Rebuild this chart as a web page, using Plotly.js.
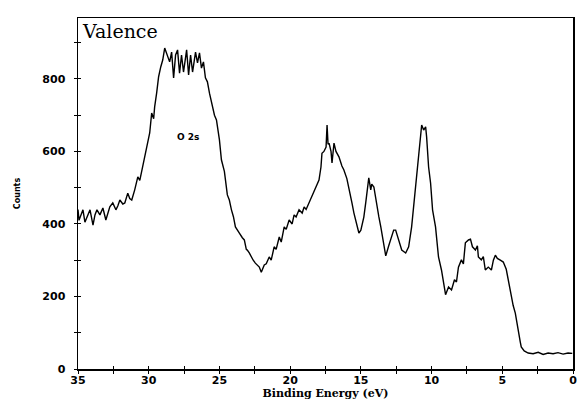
<!DOCTYPE html>
<html>
<head>
<meta charset="utf-8">
<script src="https://cdn.plot.ly/plotly-3.0.1.min.js"></script>
<style>html,body{margin:0;padding:0;background:#fff;}#chart{width:581px;height:401px;}</style>
</head>
<body>
<div id="chart"></div>
<script>
// Binding energy (eV) and counts
const bindingEnergy = [
  35.00,34.93,34.79,34.65,34.51,34.37,34.15,33.94,33.80,33.66,33.45,33.24,33.03,32.75,32.54,32.32,32.18,32.04,31.83,31.69,
  31.48,31.34,31.20,30.99,30.77,30.63,30.49,30.42,30.28,30.14,29.93,29.79,29.65,29.58,29.44,29.30,29.15,29.01,28.87,28.66,
  28.52,28.38,28.24,28.10,27.96,27.82,27.68,27.54,27.32,27.18,27.04,26.90,26.69,26.55,26.41,26.27,26.13,25.99,25.85,25.70,
  25.49,25.35,25.21,25.00,24.86,24.65,24.44,24.30,24.15,24.01,23.87,23.73,23.59,23.38,23.24,23.10,23.03,22.89,22.75,22.61,
  22.46,22.32,22.18,22.04,21.90,21.83,21.69,21.48,21.34,21.13,20.99,20.77,20.63,20.42,20.28,20.07,19.86,19.72,19.58,19.37,
  19.15,19.01,18.87,18.66,18.45,18.31,18.17,17.96,17.82,17.75,17.61,17.46,17.39,17.32,17.25,17.11,17.04,16.90,16.76,16.55,
  16.34,16.20,15.99,15.85,15.63,15.49,15.35,15.14,15.00,14.79,14.65,14.58,14.44,14.30,14.23,14.08,13.87,13.73,13.59,13.38,
  13.24,13.03,12.82,12.68,12.54,12.32,12.11,11.83,11.62,11.41,11.27,11.13,10.92,10.77,10.70,10.56,10.42,10.35,10.21,10.07,
  9.93,9.72,9.51,9.30,9.15,9.01,8.80,8.59,8.38,8.24,8.10,7.89,7.75,7.61,7.39,7.25,7.11,6.90,6.76,6.69,
  6.48,6.34,6.20,5.99,5.77,5.63,5.49,5.35,5.14,4.93,4.72,4.58,4.37,4.23,4.08,3.87,3.73,3.66,3.45,3.17,
  2.82,2.46,2.11,1.76,1.41,1.06,0.70,0.35,0.05
];
const counts = [
  440,410,425,439,405,417,439,397,425,439,425,444,411,447,458,439,450,466,455,458,
  485,470,466,494,530,520,549,557,590,612,651,706,690,723,761,806,833,852,885,858,
  847,874,803,866,880,816,866,819,880,811,866,819,874,844,872,830,847,803,792,760,
  725,700,687,632,577,545,480,466,439,420,392,385,375,362,356,330,328,320,309,300,
  292,285,281,267,280,287,290,309,300,337,330,364,350,392,385,411,400,425,419,439,
  430,447,440,458,475,490,502,521,557,595,600,612,673,620,623,600,568,623,600,585,
  560,549,525,502,458,430,411,375,383,419,460,485,527,494,510,502,447,420,392,348,
  312,340,364,383,383,356,328,320,337,392,447,502,577,632,673,659,668,640,557,513,
  439,392,309,273,237,205,226,218,246,240,281,301,290,348,356,358,337,328,340,309,
  301,310,273,281,273,300,314,305,300,295,275,246,199,175,154,99,75,61,50,44,
  42,46,40,44,42,45,41,44,43
];
const xTickVals = [35, 30, 25, 20, 15, 10, 5, 0];
const xTickText = ['35', '30', '25', '20', '15', '10', '5', '0'];
const yTickVals = [0, 200, 400, 600, 800];
const yTickText = ['0', '200', '400', '600', '800'];
const titleText = 'Valence';
const xTitle = 'Binding Energy (eV)';
const yTitle = 'Counts';
const peakLabel = 'O 2s';
const peakLabelPos = [27.2, 640];

const xRange = [35, 0];
const yRange = [0, 968];
const tickFont = {family: 'DejaVu Sans', size: 11, color: '#000', weight: 'bold'};

const trace = {
  x: bindingEnergy, y: counts, type: 'scatter', mode: 'lines',
  line: {color: '#000', width: 1.4}, hoverinfo: 'skip', showlegend: false
};
// empty trace so the overlaid tick-only axes are drawn
const tickTrace = {x: [], y: [], xaxis: 'x2', yaxis: 'y2', type: 'scatter', mode: 'lines', showlegend: false, hoverinfo: 'skip'};

const layout = {
  width: 581, height: 401,
  margin: {l: 78, r: 6, t: 18, b: 32},
  paper_bgcolor: '#fff', plot_bgcolor: '#fff',
  showlegend: false,
  title: {
    text: titleText, x: 83/581, xanchor: 'left', xref: 'container',
    y: 1 - 31/401, yanchor: 'middle', yref: 'container',
    font: {family: 'DejaVu Serif', size: 19, color: '#000'}
  },
  xaxis: {
    range: xRange, autorange: false,
    tickmode: 'array', tickvals: xTickVals, ticktext: xTickText,
    ticks: 'outside', ticklen: 3, tickwidth: 1, tickcolor: '#000',
    minor: {dtick: 2.5, tick0: 0, ticks: 'outside', ticklen: 3, tickwidth: 1, tickcolor: '#000'},
    showline: true, linecolor: '#000', linewidth: 1.5, mirror: true,
    showgrid: false, zeroline: false,
    tickfont: tickFont, ticklabelstandoff: -3,
    title: {text: xTitle, standoff: 0, font: {family: 'DejaVu Serif', size: 11, color: '#000', weight: 'bold'}}
  },
  yaxis: {
    range: yRange, autorange: false,
    tickmode: 'array', tickvals: yTickVals, ticktext: yTickText,
    ticks: 'outside', ticklen: 3, tickwidth: 1, tickcolor: '#000',
    minor: {dtick: 100, tick0: 0, ticks: 'outside', ticklen: 3, tickwidth: 1, tickcolor: '#000'},
    showline: true, linecolor: '#000', linewidth: 1.5, mirror: true,
    showgrid: false, zeroline: false,
    tickfont: tickFont, ticklabelstandoff: 6,
    title: {text: yTitle, standoff: 20, font: {family: 'DejaVu Sans', size: 8, color: '#000', weight: 'bold'}},
    automargin: true
  },
  xaxis2: {
    overlaying: 'x', anchor: 'y2', side: 'bottom', range: xRange, autorange: false,
    tickmode: 'array', tickvals: xTickVals, showticklabels: false,
    ticks: 'inside', ticklen: 3, tickwidth: 1, tickcolor: '#000',
    minor: {dtick: 2.5, tick0: 0, ticks: 'inside', ticklen: 3, tickwidth: 1, tickcolor: '#000'},
    showgrid: false, zeroline: false, showline: false
  },
  yaxis2: {
    overlaying: 'y', anchor: 'x2', side: 'left', range: yRange, autorange: false,
    tickmode: 'array', tickvals: yTickVals, showticklabels: false,
    ticks: 'inside', ticklen: 3, tickwidth: 1, tickcolor: '#000',
    minor: {dtick: 100, tick0: 0, ticks: 'inside', ticklen: 3, tickwidth: 1, tickcolor: '#000'},
    showgrid: false, zeroline: false, showline: false
  },
  annotations: [{
    x: peakLabelPos[0], y: peakLabelPos[1], xref: 'x', yref: 'y',
    text: peakLabel, showarrow: false,
    font: {family: 'DejaVu Sans', size: 9, color: '#000', weight: 'bold'}
  }]
};

Plotly.newPlot('chart', [trace, tickTrace], layout, {staticPlot: true, displayModeBar: false});
</script>
</body>
</html>
